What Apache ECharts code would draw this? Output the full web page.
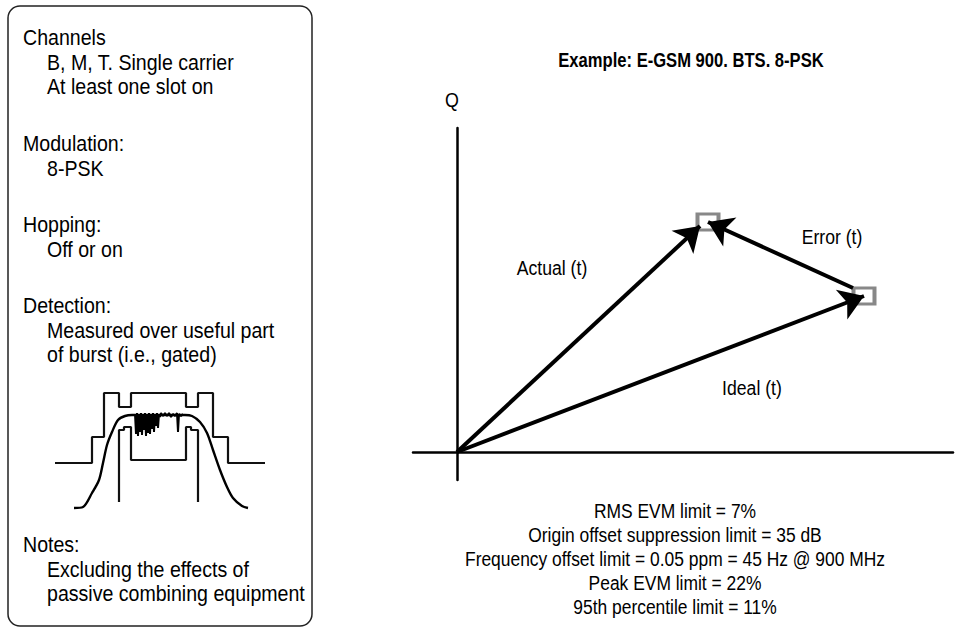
<!DOCTYPE html>
<html>
<head>
<meta charset="utf-8">
<script src="https://cdn.jsdelivr.net/npm/echarts@6/dist/echarts.min.js"></script>
<style>
html,body{margin:0;padding:0;background:#fff;}
#chart{width:964px;height:630px;}
</style>
</head>
<body>
<div id="chart"></div>
<script>
// ---------- data ----------
const titleText = 'Example: E-GSM 900. BTS. 8-PSK';
const axisName = 'Q';

// I/Q diagram (units on the I and Q axes)
const idealPoint = [407, 156];
const measuredPoint = [251, 230];
const actualTip = [243, 226];
const errorStart = [396, 164];
const origin = [0, 0];

const vectorLabels = ['Actual (t)', 'Error (t)', 'Ideal (t)'];
const vectorLabelPos = [[95, 185], [375, 216], [295, 65]];
const axisNamePos = [-5, 353];

const limitLines = [
  'RMS EVM limit = 7%',
  'Origin offset suppression limit = 35 dB',
  'Frequency offset limit = 0.05 ppm = 45 Hz @ 900 MHz',
  'Peak EVM limit = 22%',
  '95th percentile limit = 11%'
];

// Left panel text [text, indented]
const panelLines = [
  ['Channels', 0], ['B, M, T. Single carrier', 1], ['At least one slot on', 1],
  ['Modulation:', 0], ['8-PSK', 1],
  ['Hopping:', 0], ['Off or on', 1],
  ['Detection:', 0], ['Measured over useful part', 1], ['of burst (i.e., gated)', 1],
  ['Notes:', 0], ['Excluding the effects of', 1], ['passive combining equipment', 1]
];

// Burst sketch (time, level)
const maskUpper = [[0,49],[37,49],[37,75],[49,75],[49,119],[64,119],[64,105],[76,105],[76,119],[131,119],[131,105],[143,105],[143,119],[158,119],[158,75],[173,75],[173,49],[210,49]];
const maskLower = [[64,10],[64,82],[69,82],[69,85],[76,85],[76,52],[131,52],[131,85],[136,85],[136,82],[143,82],[143,10]];
const burstCurve = [[19,4],[28,5],[37,19],[44,32],[48,49],[52,67],[57,80],[63,92],[70,96],[77,97],[130,97],[137,96],[145,90],[152,79],[158,62],[165,42],[172,25],[178,14],[187,6],[193,4]];
const burstNoise = [[80,98],[81,78],[82,99],[83,76],[84,98],[85,80],[86,99],[87,77],[88,98],[89,82],[90,99],[91,76],[92,97],[93,79],[94,99],[95,78],[96,98],[97,83],[98,99],[99,80],[100,98],[101,86],[102,99],[103,84],[104,98],[105,95],[106,99],[108,96],[110,99],[112,96],[114,99],[116,95],[118,98],[120,96],[122,99],[123,80],[124,98],[126,96],[128,98]];

// ---------- chart ----------
const FONT = "'Liberation Sans','Arimo',Roboto,sans-serif";
const chart = echarts.init(document.getElementById('chart'), null, {renderer: 'svg'});

const option = {
  backgroundColor: '#fff',
  animation: false,
  grid: [
    {left: 413, top: 128, width: 540, height: 352},
    {left: 55, top: 390, width: 210, height: 122}
  ],
  xAxis: [
    {type: 'value', gridIndex: 0, min: -44, max: 496,
     axisLine: {show: true, onZero: true, lineStyle: {color: '#000', width: 2.5}},
     axisTick: {show: false}, axisLabel: {show: false}, splitLine: {show: false}},
    {type: 'value', gridIndex: 1, min: 0, max: 210, show: false}
  ],
  yAxis: [
    {type: 'value', gridIndex: 0, min: -28, max: 324,
     axisLine: {show: true, onZero: true, lineStyle: {color: '#000', width: 2.5}},
     axisTick: {show: false}, axisLabel: {show: false}, splitLine: {show: false}},
    {type: 'value', gridIndex: 1, min: 0, max: 122, show: false}
  ],
  series: [
    {
      type: 'lines', coordinateSystem: 'cartesian2d', xAxisIndex: 0, yAxisIndex: 0,
      symbol: ['none', 'arrow'], symbolSize: [15, 24],
      lineStyle: {color: '#000', width: 4, opacity: 1},
      data: [
        {coords: [origin, actualTip]},
        {coords: [errorStart, measuredPoint]},
        {coords: [origin, idealPoint]}
      ],
      z: 3
    },
    {
      type: 'scatter', xAxisIndex: 0, yAxisIndex: 0,
      symbol: 'rect', symbolSize: [21, 16],
      itemStyle: {color: 'rgba(0,0,0,0)', borderColor: '#6a6a6a', borderWidth: 3.5},
      data: [idealPoint, measuredPoint], z: 2
    },
    {type: 'line', xAxisIndex: 1, yAxisIndex: 1, data: maskUpper, symbol: 'none',
     lineStyle: {color: '#111', width: 2.2}},
    {type: 'line', xAxisIndex: 1, yAxisIndex: 1, data: maskLower, symbol: 'none',
     lineStyle: {color: '#111', width: 2.2}},
    {type: 'line', xAxisIndex: 1, yAxisIndex: 1, data: burstCurve, symbol: 'none', smooth: 0.3,
     lineStyle: {color: '#000', width: 2.4}},
    {type: 'line', xAxisIndex: 1, yAxisIndex: 1, data: burstNoise, symbol: 'none',
     lineStyle: {color: '#000', width: 2}}
  ]
};
chart.setOption(option);

// ---------- text (condensed look via horizontal scaling) ----------
function txt(x, y, text, size, opts) {
  opts = opts || {};
  return {
    type: 'text', x: x, y: y, scaleX: opts.sx || 0.85,
    style: {text: text, font: (opts.bold ? 'bold ' : '') + size + 'px ' + FONT,
            fill: '#000', textAlign: opts.align || 'left', textVerticalAlign: 'middle'}
  };
}
const panelRows = [37, 61.5, 86, 143, 167.5, 224, 248.5, 305, 329.5, 354, 544, 568.5, 593];
const graphics = [{
  type: 'rect',
  shape: {x: 8, y: 6, width: 304, height: 620, r: 12},
  style: {fill: 'none', stroke: '#222', lineWidth: 1.5}
}];
panelLines.forEach((l, i) => graphics.push(txt(l[1] ? 47 : 23, panelRows[i], l[0], 22.5, {sx: 0.87})));
limitLines.forEach((t, i) => graphics.push(txt(675, 511 + i * 24, t, 21, {align: 'center', sx: 0.83})));
graphics.push(txt(691, 60, titleText, 20, {bold: true, align: 'center', sx: 0.83}));
const qPix = chart.convertToPixel({gridIndex: 0}, axisNamePos);
graphics.push(txt(qPix[0], qPix[1], axisName, 21, {align: 'center', sx: 0.85}));
vectorLabels.forEach((n, i) => {
  const p = chart.convertToPixel({gridIndex: 0}, vectorLabelPos[i]);
  graphics.push(txt(p[0], p[1], n, 21, {align: 'center', sx: 0.84}));
});
chart.setOption({graphic: graphics});
</script>
</body>
</html>
